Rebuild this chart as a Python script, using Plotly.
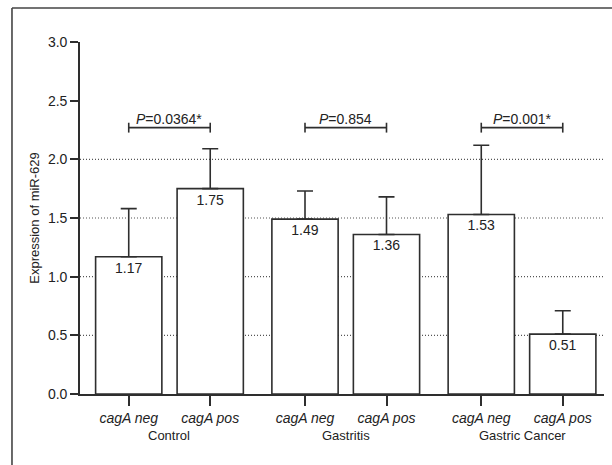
import plotly.graph_objects as go

# ---- data ----
groups = ["Control", "Gastritis", "Gastric Cancer"]
subgroups = ["cagA neg", "cagA pos"]
means = [1.17, 1.75, 1.49, 1.36, 1.53, 0.51]
err_up = [0.41, 0.34, 0.24, 0.32, 0.59, 0.20]
p_labels = ["0.0364*", "0.854", "0.001*"]
bracket_level = 2.27
y_ticks = [0.0, 0.5, 1.0, 1.5, 2.0, 2.5, 3.0]
grid_levels = [0.5, 1.0, 1.5, 2.0]

# ---- layout helpers ----
GROUP_STEP = 2.163
BAR_W = 0.813
FONT = "Liberation Sans, Arial, sans-serif"
DARK = "#2e2e2e"
TXT = "#222"

xpos = []
ticktext = []
for g in range(len(groups)):
    for s in range(len(subgroups)):
        xpos.append(g * GROUP_STEP + s)
        ticktext.append("<i>" + subgroups[s] + "</i>")

fig = go.Figure()
fig.add_trace(go.Bar(
    x=xpos, y=means, width=BAR_W,
    marker=dict(color="white", line=dict(color=DARK, width=1.6)),
    error_y=dict(type="data", symmetric=False, array=err_up,
                 arrayminus=[0] * len(means), color=DARK, thickness=1.6, width=8),
    text=[f"{v:.2f}" for v in means], texttemplate="%{text}",
    textposition="inside", insidetextanchor="end", textangle=0,
    insidetextfont=dict(family=FONT, size=14, color=TXT),
    showlegend=False, hoverinfo="skip",
))

shapes = []
# dotted grid lines
for gl in grid_levels:
    shapes.append(dict(type="line", xref="paper", yref="y", x0=0, x1=1, y0=gl, y1=gl,
                       line=dict(color="#555", width=1.2, dash="1px,2px"), layer="below"))
# significance brackets
tick_h = 0.042
annotations = []
for g in range(len(groups)):
    xa = xpos[2 * g]
    xb = xpos[2 * g + 1]
    shapes.append(dict(type="line", x0=xa, x1=xb, y0=bracket_level, y1=bracket_level,
                       line=dict(color=DARK, width=1.6)))
    for xx in (xa, xb):
        shapes.append(dict(type="line", x0=xx, x1=xx, y0=bracket_level - tick_h,
                           y1=bracket_level + tick_h, line=dict(color=DARK, width=1.6)))
    annotations.append(dict(x=(xa + xb) / 2, y=bracket_level, xref="x", yref="y",
                            text="<i>P</i>=" + p_labels[g], showarrow=False,
                            yanchor="bottom", yshift=-1,
                            font=dict(family=FONT, size=14, color=TXT)))
    annotations.append(dict(x=(xa + xb) / 2, y=0, xref="x", yref="paper",
                            text=groups[g], showarrow=False, yanchor="middle", yshift=-41,
                            font=dict(family=FONT, size=13, color=TXT)))

# outer frame (left and top edges)
shapes.append(dict(type="line", xref="paper", yref="paper", x0=-0.1298, x1=-0.1298,
                   y0=1.0966, y1=-0.25, line=dict(color="#444", width=1.6)))
shapes.append(dict(type="line", xref="paper", yref="paper", x0=-0.1298, x1=1.05,
                   y0=1.0966, y1=1.0966, line=dict(color="#444", width=1.6)))

fig.update_layout(
    width=612, height=465,
    margin=dict(l=80, r=8, t=42, b=71, autoexpand=False),
    paper_bgcolor="white", plot_bgcolor="white",
    font=dict(family=FONT, size=14, color=TXT),
    shapes=shapes, annotations=annotations,
    xaxis=dict(range=[-0.598, 5.832], tickvals=xpos, ticktext=ticktext,
               showgrid=False, zeroline=False, showline=True, linecolor=DARK, linewidth=1.6,
               ticks="outside", ticklen=10, tickwidth=1.6, tickcolor=DARK,
               tickfont=dict(family=FONT, size=14, color=TXT)),
    yaxis=dict(range=[0, 3.0], tickvals=y_ticks, ticktext=[f"{v:.1f}" for v in y_ticks],
               showgrid=False, zeroline=False, showline=True, linecolor=DARK, linewidth=1.6,
               ticks="outside", ticklen=8, tickwidth=1.6, tickcolor=DARK,
               tickfont=dict(family=FONT, size=14, color=TXT),
               title=dict(text="Expression of miR-629", standoff=5,
                          font=dict(family=FONT, size=13, color=TXT))),
)

fig.write_html("out.html", config={"displayModeBar": False},
               post_script="document.body.style.margin='0px';document.body.style.overflow='hidden';")
